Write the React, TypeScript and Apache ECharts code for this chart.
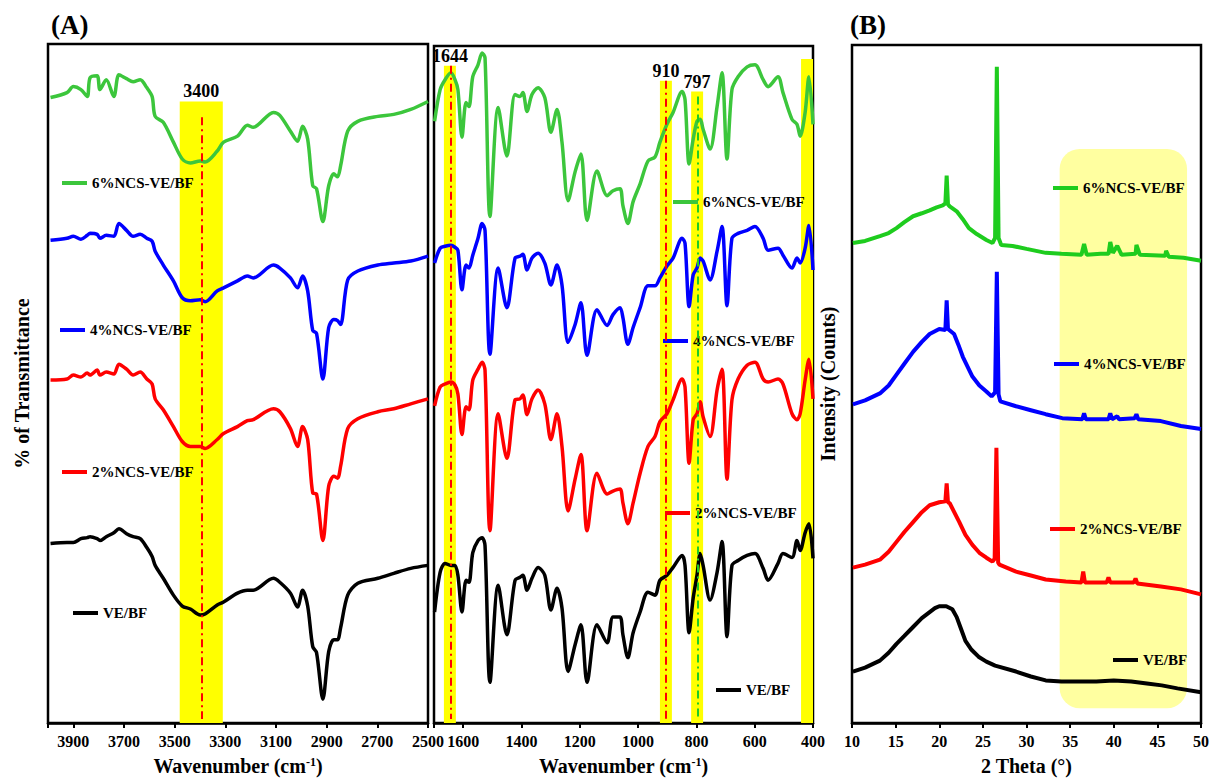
import React, { useEffect, useRef } from 'react';
import * as echarts from 'echarts';

const FONT = '"Liberation Serif", "Times New Roman", serif';

// ---------- FTIR, high wavenumber region (cm-1) ----------
const ftirHighWn = [3990, 3925, 3900, 3870, 3845, 3834, 3806, 3795, 3770, 3740, 3720, 3690, 3664, 3636, 3610, 3589, 3577, 3545, 3505, 3470, 3438, 3399, 3380, 3332, 3307, 3252, 3213, 3190, 3110, 3085, 3043, 3015, 2995, 2975, 2955, 2940, 2915, 2892, 2872, 2857, 2845, 2817, 2777, 2698, 2635, 2568, 2500];
const ftirHighNcs6 = [631, 636, 642, 639, 632, 651, 653, 639, 649, 632, 654, 650, 647, 649, 641, 632, 612, 606, 586, 569, 565, 567, 566, 577, 586, 592, 603, 601, 616, 613, 597, 587, 602, 589, 542, 539, 506, 542, 554, 551, 562, 597, 607, 612, 614, 619, 627];
const ftirHighNcs4 = [487, 489, 491, 488, 492, 494, 493, 489, 492, 491, 504, 497, 491, 493, 489, 486, 476, 462, 446, 429, 426, 427, 425, 436, 439, 446, 451, 449, 462, 459, 449, 439, 451, 436, 396, 393, 347, 399, 407, 406, 402, 447, 456, 462, 464, 466, 471];
const ftirHighNcs2 = [346, 347, 351, 349, 353, 351, 356, 351, 354, 352, 362, 357, 351, 354, 347, 342, 327, 316, 299, 284, 279, 279, 277, 286, 292, 299, 305, 306, 317, 314, 297, 279, 299, 286, 232, 231, 184, 239, 249, 247, 259, 297, 307, 314, 317, 322, 327];
const ftirHighVe = [181, 182, 182, 186, 187, 188, 186, 184, 188, 192, 196, 191, 188, 186, 177, 168, 159, 146, 129, 118, 115, 109, 110, 119, 122, 131, 134, 134, 146, 142, 131, 117, 134, 118, 77, 71, 24, 72, 84, 84, 96, 129, 141, 146, 151, 156, 159];

// ---------- FTIR, fingerprint region (cm-1) ----------
const ftirLowWn = [1698, 1679, 1662, 1642, 1628, 1618, 1604, 1590, 1580, 1567, 1549, 1535, 1525, 1508, 1480, 1450, 1422, 1405, 1395, 1381, 1364, 1343, 1320, 1299, 1278, 1261, 1240, 1216, 1196, 1175, 1141, 1106, 1086, 1062, 1052, 1035, 1017, 993, 966, 942, 925, 901, 880, 849, 839, 825, 811, 798, 787, 777, 753, 729, 712, 695, 678, 657, 626, 599, 571, 554, 520, 503, 472, 455, 444, 427, 414, 400];
const ftirLowNcs6 = [607, 639, 649, 656, 649, 639, 591, 626, 622, 652, 664, 676, 671, 511, 621, 572, 634, 632, 636, 617, 634, 641, 631, 596, 619, 586, 527, 556, 574, 507, 557, 532, 537, 539, 522, 504, 526, 544, 567, 571, 586, 604, 616, 637, 629, 564, 589, 607, 609, 599, 579, 622, 656, 569, 639, 652, 662, 664, 649, 642, 652, 636, 609, 604, 592, 616, 652, 604];
const ftirLowNcs4 = [464, 479, 481, 482, 480, 477, 437, 462, 459, 472, 489, 504, 497, 372, 459, 419, 469, 471, 473, 457, 469, 474, 464, 442, 462, 442, 384, 402, 424, 371, 417, 401, 412, 419, 409, 382, 399, 419, 441, 441, 449, 461, 469, 489, 484, 420, 452, 459, 469, 466, 447, 476, 501, 421, 489, 494, 497, 501, 489, 477, 479, 472, 459, 469, 464, 479, 502, 457];
const ftirLowNcs2 = [320, 339, 342, 344, 341, 332, 291, 319, 316, 346, 357, 364, 356, 194, 312, 267, 326, 327, 331, 311, 327, 336, 322, 286, 312, 279, 214, 246, 271, 194, 252, 231, 234, 236, 222, 201, 222, 252, 279, 289, 304, 312, 326, 347, 339, 262, 306, 312, 324, 309, 289, 336, 357, 246, 326, 347, 361, 364, 347, 344, 347, 342, 312, 306, 312, 346, 367, 327];
const ftirLowVe = [112, 152, 161, 159, 159, 149, 112, 144, 142, 172, 184, 187, 179, 41, 139, 89, 144, 147, 149, 134, 146, 157, 149, 114, 136, 116, 52, 79, 99, 41, 99, 81, 107, 107, 89, 66, 91, 112, 132, 129, 144, 149, 157, 169, 159, 91, 126, 149, 171, 159, 124, 152, 183, 87, 159, 164, 169, 171, 156, 144, 161, 171, 167, 184, 174, 192, 201, 166];

// ---------- XRD (2 theta, counts a.u.) ----------
const xrdNcs6 = [[10.1, 485], [11.5, 487], [13.2, 492], [14.2, 495], [15.1, 500], [16.0, 506], [17.0, 512], [18.0, 515], [18.9, 518], [19.7, 521], [20.4, 523], [20.7, 525], [20.85, 553], [21.0, 524], [21.2, 522], [22.0, 517], [22.7, 509], [23.4, 500], [24.3, 494], [25.4, 488], [26.1, 485], [26.4, 490], [26.6, 663], [26.8, 490], [27.1, 483], [28.4, 482], [30.0, 479], [32.2, 475], [34.0, 474], [36.3, 473], [36.6, 484], [36.9, 473], [38.5, 474], [39.4, 474], [39.6, 486], [39.9, 475], [40.4, 482], [40.9, 473], [42.5, 474], [42.6, 483], [43.0, 473], [45.9, 472], [46.0, 477], [46.3, 471], [48.0, 470], [50.0, 467]];
const xrdNcs4 = [[10.1, 322], [11.5, 326], [13.2, 333], [14.2, 341], [15.1, 352], [16.0, 363], [17.0, 375], [18.0, 385], [18.9, 393], [20.0, 398], [20.7, 397], [20.85, 427], [21.0, 398], [21.7, 393], [22.2, 382], [22.7, 370], [23.8, 350], [24.6, 341], [25.4, 335], [26.0, 330], [26.4, 334], [26.6, 456], [26.8, 332], [27.0, 325], [28.8, 320], [30.5, 316], [32.2, 312], [34.1, 308], [36.4, 307], [36.6, 313], [36.8, 307], [39.4, 307], [39.6, 313], [39.8, 307], [40.4, 310], [40.6, 307], [42.4, 308], [42.6, 312], [42.8, 307], [45.4, 305], [47.7, 300], [50.0, 297]];
const xrdNcs2 = [[10.1, 157], [11.5, 160], [13.2, 165], [14.2, 173], [15.1, 183], [16.0, 193], [17.0, 203], [18.0, 213], [18.9, 220], [20.0, 223], [20.7, 224], [20.85, 242], [21.0, 223], [21.2, 222], [22.3, 203], [23.0, 190], [23.8, 180], [24.6, 172], [25.4, 167], [26.1, 163], [26.35, 166], [26.55, 278], [26.75, 162], [26.9, 160], [28.8, 153], [30.5, 149], [32.2, 145], [34.5, 143], [36.3, 142], [36.5, 153], [36.7, 142], [39.2, 142], [39.4, 147], [39.6, 142], [42.3, 142], [42.5, 146], [42.7, 141], [45.4, 138], [47.7, 135], [50.0, 130]];
const xrdVe = [[10.1, 52], [11.5, 56], [13.2, 63], [14.2, 71], [15.1, 80], [16.0, 88], [17.0, 97], [18.0, 106], [18.9, 112], [19.5, 116], [20.0, 118], [20.8, 118], [21.5, 115], [22.0, 107], [22.5, 95], [23.0, 83], [23.7, 74], [24.5, 67], [25.4, 62], [26.4, 58], [28.8, 52], [30.5, 47], [32.2, 43], [34.0, 42], [36.0, 42], [38.0, 42], [40.0, 43], [42.0, 42], [43.8, 40], [45.5, 38], [47.3, 35], [50.0, 31]];

// ---------- highlighted bands [from, to, top, label] ----------
const highBands: [number, number, number, string][] = [[3480, 3310, 627, '3400']];
const lowBands: [number, number, number, string][] = [[1666, 1625, 663, '1644'], [925, 884, 648, '910'], [818, 777, 637, '797'], [441, 400, 670, '']];
const highGuides: [number, number, number, string][] = [[3395, 611, 4, '#ff0000']];
const lowGuides: [number, number, number, string][] = [[1642, 663, 4, '#ff0000'], [905, 648, 4, '#ff0000'], [797, 632, 4, '#22cc22']];
const xrdZone = [33.8, 48.4, 580, 15];

const NAMES = ['6%NCS-VE/BF', '4%NCS-VE/BF', '2%NCS-VE/BF', 'VE/BF'];
const COLORS = ['#3cc63c', '#0000ff', '#ff0000', '#000000'];
const XRD_GREEN = '#1ecc1e';

const legendSpots = [
  [0, 62, 183], [1, 60, 330], [2, 62, 472], [3, 73, 613],
  [0, 673, 202], [1, 663, 341], [2, 665, 513], [3, 716, 690],
  [0, 1053, 188], [1, 1054, 364], [2, 1050, 529], [3, 1113, 660],
];

const zip = (xs: number[], ys: number[]) => xs.map((x, i) => [x, ys[i]]);

export default function App() {
  const ref = useRef<HTMLDivElement>(null);
  useEffect(() => {
    const chart = echarts.init(ref.current!, null, { renderer: 'svg' });
    const tickLabel = { fontFamily: FONT, fontWeight: 'bold', fontSize: 16, color: '#000', margin: 10 };
    const axisName = { fontFamily: FONT, fontWeight: 'bold', fontSize: 20, color: '#000', rich: { sup: { fontFamily: FONT, fontWeight: 'bold', fontSize: 12, color: '#000', verticalAlign: 'top' } } };
    const baseX = {
      type: 'value', nameLocation: 'middle', nameGap: 33, nameTextStyle: axisName,
      axisLine: { lineStyle: { color: '#000', width: 2.5 } },
      axisTick: { length: 5, lineStyle: { color: '#000', width: 2 } },
      splitLine: { show: false },
    };
    const baseY = {
      type: 'value', min: 0, nameLocation: 'middle', nameTextStyle: axisName,
      axisLine: { show: false }, axisTick: { show: false }, axisLabel: { show: false }, splitLine: { show: false },
    };
    const line = (i: number, axis: number, data: number[][], color: string, width: number, smooth: number) => ({
      type: 'line', name: NAMES[i], xAxisIndex: axis, yAxisIndex: axis, data, symbol: 'none', smooth,
      lineStyle: { color, width }, itemStyle: { color }, z: 3, silent: true,
    });
    const bandSeries = (axis: number, bands: [number, number, number, string][]) => ({
      type: 'line', name: 'bands' + axis, xAxisIndex: axis, yAxisIndex: axis, data: [], z: 1, silent: true,
      markArea: {
        silent: true, itemStyle: { color: '#ffff00' },
        label: { show: true, position: 'top', distance: 1, color: '#000', fontFamily: FONT, fontWeight: 'bold', fontSize: 18 },
        data: bands.map((b) => [{ xAxis: b[0], yAxis: b[2], name: b[3] }, { xAxis: b[1], yAxis: 0 }]),
      },
    });
    const guideSeries = (axis: number, guides: [number, number, number, string][]) => ({
      type: 'line', name: 'guides' + axis, xAxisIndex: axis, yAxisIndex: axis, data: [], z: 4, silent: true,
      markLine: {
        silent: true, symbol: ['none', 'none'], label: { show: false },
        lineStyle: { type: [8, 4, 2, 4], width: 2 },
        data: guides.map((g) => [{ coord: [g[0], g[1]], lineStyle: { color: g[3], type: [8, 4, 2, 4], width: 2 } }, { coord: [g[0], g[2]] }]),
      },
    });

    const option: any = {
      animation: false,
      backgroundColor: '#ffffff',
      title: [
        { text: '(A)', left: 51, top: 11, padding: 0, textStyle: { fontFamily: FONT, fontWeight: 'bold', fontSize: 27, color: '#000' } },
        { text: '(B)', left: 850, top: 11, padding: 0, textStyle: { fontFamily: FONT, fontWeight: 'bold', fontSize: 27, color: '#000' } },
      ],
      grid: [
        { left: 48, top: 44, width: 380, height: 685, show: true, borderColor: '#000', borderWidth: 2.5 },
        { left: 434, top: 46, width: 379, height: 683, show: true, borderColor: '#000', borderWidth: 2.5 },
        { left: 852, top: 45, width: 351, height: 685, show: true, borderColor: '#000', borderWidth: 2.5 },
      ],
      xAxis: [
        { ...baseX, gridIndex: 0, min: 2500, max: 4000, interval: 200, inverse: true, name: 'Wavenumber (cm{sup|-1})',
          axisLabel: { ...tickLabel, formatter: (v: number) => (v === 4000 ? '' : String(v)) } },
        { ...baseX, gridIndex: 1, min: 400, max: 1700, interval: 200, inverse: true, name: 'Wavenumber (cm{sup|-1})',
          axisLabel: { ...tickLabel, formatter: (v: number) => (v === 1700 ? '' : String(v)) } },
        { ...baseX, gridIndex: 2, min: 10, max: 50, interval: 5, name: '2 Theta (°)', axisLabel: { ...tickLabel } },
      ],
      yAxis: [
        { ...baseY, gridIndex: 0, max: 685, name: '% of Transmittance', nameGap: 16 },
        { ...baseY, gridIndex: 1, max: 683 },
        { ...baseY, gridIndex: 2, max: 685, name: 'Intensity (Counts)', nameGap: 14 },
      ],
      legend: legendSpots.map(([i, x, y]) => ({
        data: [{ name: NAMES[i], itemStyle: { color: x > 840 && i === 0 ? XRD_GREEN : COLORS[i] } }],
        left: x, top: y - 8, padding: 0, icon: 'rect', itemWidth: 25, itemHeight: 4, selectedMode: false,
        textStyle: { fontFamily: FONT, fontWeight: 'bold', fontSize: 15, color: '#000', lineHeight: 16 },
      })),
      series: [
        bandSeries(0, highBands),
        bandSeries(1, lowBands),
        line(0, 0, zip(ftirHighWn, ftirHighNcs6), COLORS[0], 3.5, 0.3),
        line(1, 0, zip(ftirHighWn, ftirHighNcs4), COLORS[1], 3.5, 0.3),
        line(2, 0, zip(ftirHighWn, ftirHighNcs2), COLORS[2], 3.5, 0.3),
        line(3, 0, zip(ftirHighWn, ftirHighVe), COLORS[3], 3.5, 0.3),
        line(0, 1, zip(ftirLowWn, ftirLowNcs6), COLORS[0], 3.5, 0.3),
        line(1, 1, zip(ftirLowWn, ftirLowNcs4), COLORS[1], 3.5, 0.3),
        line(2, 1, zip(ftirLowWn, ftirLowNcs2), COLORS[2], 3.5, 0.3),
        line(3, 1, zip(ftirLowWn, ftirLowVe), COLORS[3], 3.5, 0.3),
        line(0, 2, xrdNcs6, XRD_GREEN, 4, 0),
        line(1, 2, xrdNcs4, COLORS[1], 4, 0),
        line(2, 2, xrdNcs2, COLORS[2], 4, 0),
        line(3, 2, xrdVe, COLORS[3], 4, 0),
        guideSeries(0, highGuides),
        guideSeries(1, lowGuides),
      ],
    };
    chart.setOption(option);
    const p1 = chart.convertToPixel({ gridIndex: 2 } as any, [xrdZone[0], xrdZone[2]]) as number[];
    const p2 = chart.convertToPixel({ gridIndex: 2 } as any, [xrdZone[1], xrdZone[3]]) as number[];
    chart.setOption({
      graphic: [{
        type: 'rect', z: 0, silent: true,
        shape: { x: p1[0], y: p1[1], width: p2[0] - p1[0], height: p2[1] - p1[1], r: 20 },
        style: { fill: '#ffffa0' },
      }],
    });
    return () => chart.dispose();
  }, []);
  return <div ref={ref} style={{ position: 'absolute', left: 0, top: 0, width: 1212, height: 781 }} />;
}
